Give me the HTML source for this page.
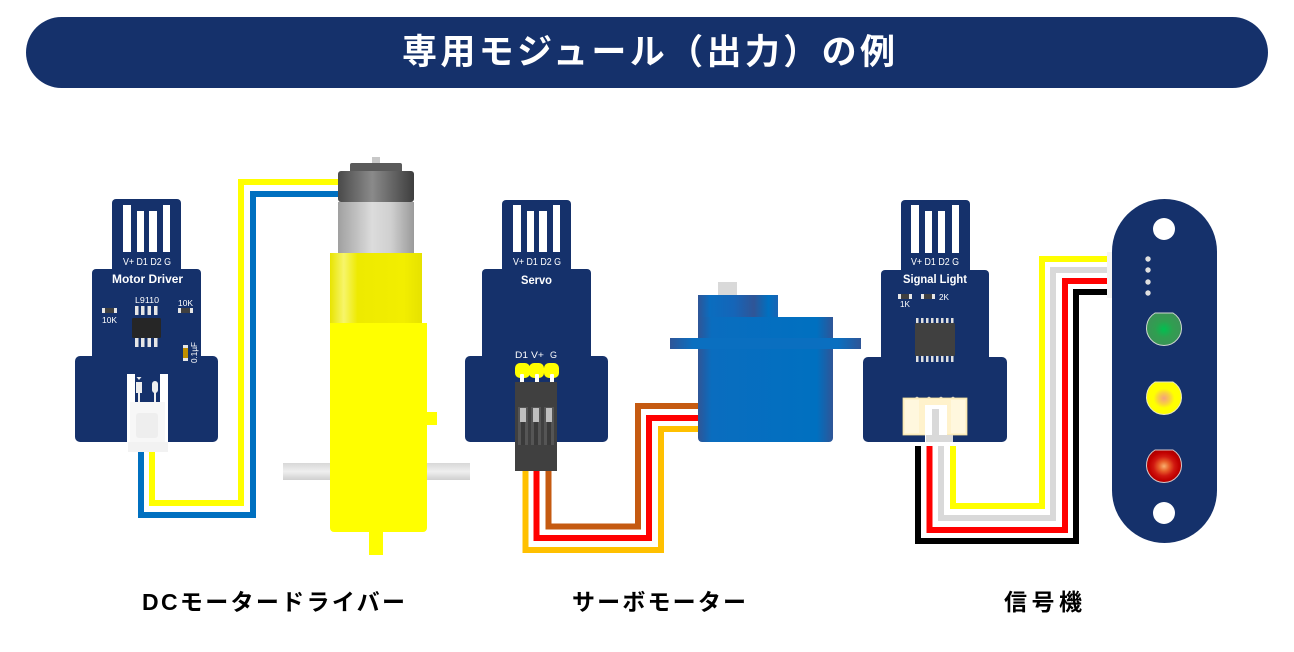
<!DOCTYPE html>
<html><head><meta charset="utf-8"><style>
html,body{margin:0;padding:0;background:#fff;}
svg{display:block;}
.jp{font-family:"Liberation Sans","Noto Sans CJK JP",sans-serif;font-weight:bold;}
.lb{font-family:"Liberation Sans",sans-serif;fill:#fff;}
</style></head><body>
<svg width="1294" height="652" viewBox="0 0 1294 652" xmlns="http://www.w3.org/2000/svg">
<defs>
<linearGradient id="cap" x1="0" x2="1" y1="0" y2="0">
<stop offset="0" stop-color="#4a4a4a"/><stop offset="0.45" stop-color="#8a8a8a"/><stop offset="1" stop-color="#3e3e3e"/></linearGradient>
<linearGradient id="silver" x1="0" x2="1" y1="0" y2="0">
<stop offset="0" stop-color="#a0a0a0"/><stop offset="0.45" stop-color="#dcdcdc"/><stop offset="0.7" stop-color="#cfcfcf"/><stop offset="1" stop-color="#9a9a9a"/></linearGradient>
<linearGradient id="yup" x1="0" x2="1" y1="0" y2="0">
<stop offset="0" stop-color="#e8e400"/><stop offset="0.15" stop-color="#f7f56a"/><stop offset="0.3" stop-color="#eeea00"/><stop offset="0.8" stop-color="#f2ee00"/><stop offset="1" stop-color="#e6e200"/></linearGradient>
<linearGradient id="axle" x1="0" x2="0" y1="0" y2="1">
<stop offset="0" stop-color="#d8d8d8"/><stop offset="0.5" stop-color="#efefef"/><stop offset="1" stop-color="#cfcfcf"/></linearGradient>
<linearGradient id="sbody" x1="0" x2="1" y1="0" y2="0">
<stop offset="0" stop-color="#2f5597"/><stop offset="0.1" stop-color="#0a6dbf"/><stop offset="0.88" stop-color="#0070c0"/><stop offset="1" stop-color="#2f5597"/></linearGradient>
<linearGradient id="stop" x1="0" x2="1" y1="0" y2="0">
<stop offset="0" stop-color="#2f5597"/><stop offset="0.15" stop-color="#0a6dbf"/><stop offset="0.45" stop-color="#1565b8"/><stop offset="0.7" stop-color="#2f5597"/><stop offset="0.88" stop-color="#0070c0"/><stop offset="1" stop-color="#1a64b4"/></linearGradient>
<linearGradient id="sfl" x1="0" x2="1" y1="0" y2="0">
<stop offset="0" stop-color="#2f5597"/><stop offset="0.12" stop-color="#0a6fc0"/><stop offset="0.88" stop-color="#0a6fc0"/><stop offset="1" stop-color="#2f5597"/></linearGradient>
<radialGradient id="gled"><stop offset="0" stop-color="#00c050"/><stop offset="0.5" stop-color="#2f9f50"/><stop offset="1" stop-color="#3a9456"/></radialGradient>
<radialGradient id="yled"><stop offset="0" stop-color="#f4a080"/><stop offset="0.35" stop-color="#f8d040"/><stop offset="0.6" stop-color="#ffff00"/><stop offset="1" stop-color="#ffff00"/></radialGradient>
<radialGradient id="rled"><stop offset="0" stop-color="#f8b070"/><stop offset="0.3" stop-color="#e8602a"/><stop offset="0.6" stop-color="#d01810"/><stop offset="0.85" stop-color="#c00000"/><stop offset="1" stop-color="#b00000"/></radialGradient>
</defs>

<!-- Title -->
<rect x="26" y="17" width="1242" height="71" rx="35.5" fill="#15316b"/>
<text class="jp" x="402" y="64" font-size="35" fill="#fff" textLength="493" lengthAdjust="spacing">専用モジュール（出力）の例</text>

<!-- ========== Motor driver ========== -->
<g fill="#15316b">
<rect x="112" y="199" width="69" height="80" rx="4"/>
<rect x="92" y="269" width="109" height="95" rx="4"/>
<rect x="75" y="356" width="143" height="86" rx="5"/>
</g>
<g fill="#fff">
<rect x="123" y="205" width="8" height="47"/><rect x="137" y="211" width="7" height="41"/>
<rect x="149" y="211" width="8" height="41"/><rect x="163" y="205" width="7" height="47"/>
</g>
<text class="lb" x="123" y="265" font-size="10" textLength="48" lengthAdjust="spacingAndGlyphs">V+ D1 D2 G</text>
<text class="lb" x="112" y="283" font-size="12" font-weight="bold" textLength="71" lengthAdjust="spacingAndGlyphs">Motor Driver</text>
<text class="lb" x="135" y="303" font-size="8" textLength="24" lengthAdjust="spacingAndGlyphs">L9110</text>
<g fill="#e6e6e6">
<rect x="135" y="306" width="3.5" height="9"/><rect x="141" y="306" width="3.5" height="9"/><rect x="147.5" y="306" width="3.5" height="9"/><rect x="154" y="306" width="3.5" height="9"/>
<rect x="135" y="338" width="3.5" height="9"/><rect x="141" y="338" width="3.5" height="9"/><rect x="147.5" y="338" width="3.5" height="9"/><rect x="154" y="338" width="3.5" height="9"/>
</g>
<rect x="132" y="318" width="29" height="20" rx="1.5" fill="#262626"/>
<rect x="102" y="308" width="15" height="5" fill="#e6e6e6"/><rect x="105" y="308" width="9" height="5" fill="#404040"/>
<text class="lb" x="102" y="323" font-size="8" textLength="15" lengthAdjust="spacingAndGlyphs">10K</text>
<rect x="178" y="308" width="15" height="5" fill="#e6e6e6"/><rect x="181" y="308" width="9" height="5" fill="#404040"/>
<text class="lb" x="178" y="306" font-size="8" textLength="15" lengthAdjust="spacingAndGlyphs">10K</text>
<rect x="183" y="345" width="5" height="16" fill="#e6e6e6"/><rect x="183" y="348" width="5" height="10" fill="#bf8f00"/>
<text class="lb" transform="translate(197,363) rotate(-90)" font-size="8" textLength="21" lengthAdjust="spacingAndGlyphs">0.1µF</text>
<!-- motor connector -->
<rect x="127" y="374" width="41" height="68" fill="#fff"/>
<rect x="135" y="374" width="25" height="28" fill="#15316b"/>
<rect x="136" y="382" width="6" height="11" fill="#eee"/><rect x="138" y="392" width="2" height="10" fill="#eee"/>
<path d="M136.5 377 L141.5 377 L139 380 Z" fill="#eee"/>
<rect x="152" y="381" width="6" height="12" rx="3" fill="#eee"/><rect x="154" y="392" width="2" height="10" fill="#eee"/>
<rect x="130" y="402" width="35" height="40" fill="#f7f7f7"/>
<rect x="136" y="413" width="22" height="25" rx="3" fill="#eeeeee"/>
<rect x="128" y="442" width="40" height="10" fill="#f2f2f2"/>
<!-- motor wires -->
<g fill="none" stroke-width="6" stroke-linejoin="miter">
<polyline points="141,452 141,515 253,515 253,194 340,194" stroke="#0070c0"/>
<polyline points="152,452 152,503 241,503 241,182 340,182" stroke="#ffff00"/>
</g>

<!-- ========== DC motor ========== -->
<rect x="283" y="463" width="187" height="17" fill="url(#axle)"/>
<rect x="372" y="157" width="8" height="7" fill="#c8c8c8"/>
<rect x="350" y="163" width="52" height="11" rx="2" fill="#5a5a5a"/>
<rect x="338" y="171" width="76" height="31" rx="3" fill="url(#cap)"/>
<rect x="338" y="202" width="76" height="51" fill="url(#silver)"/>
<rect x="330" y="253" width="92" height="70" fill="url(#yup)"/>
<rect x="330" y="323" width="97" height="209" rx="4" fill="#ffff00"/>
<rect x="330" y="323" width="97" height="10" fill="#ffff00"/>
<rect x="427" y="412" width="10" height="13" fill="#ffff00"/>
<rect x="369" y="532" width="14" height="23" fill="#ffff00"/>

<!-- ========== Servo board ========== -->
<g fill="#15316b">
<rect x="502" y="200" width="69" height="80" rx="4"/>
<rect x="482" y="269" width="109" height="95" rx="4"/>
<rect x="465" y="356" width="143" height="86" rx="5"/>
</g>
<g fill="#fff">
<rect x="513" y="205" width="8" height="47"/><rect x="527" y="211" width="7" height="41"/>
<rect x="539" y="211" width="8" height="41"/><rect x="553" y="205" width="7" height="47"/>
</g>
<text class="lb" x="513" y="265" font-size="10" textLength="48" lengthAdjust="spacingAndGlyphs">V+ D1 D2 G</text>
<text class="lb" x="521" y="284" font-size="12" font-weight="bold" textLength="31" lengthAdjust="spacingAndGlyphs">Servo</text>
<text class="lb" x="515" y="358" font-size="9" textLength="13" lengthAdjust="spacingAndGlyphs">D1</text>
<text class="lb" x="531" y="358" font-size="9" textLength="13" lengthAdjust="spacingAndGlyphs">V+</text>
<text class="lb" x="550" y="358" font-size="9" textLength="7" lengthAdjust="spacingAndGlyphs">G</text>
<g fill="#ffff00">
<rect x="515" y="363" width="15" height="15" rx="5"/><rect x="529" y="363" width="15" height="15" rx="5"/><rect x="544" y="363" width="15" height="15" rx="5"/>
</g>
<g fill="#fff"><rect x="520" y="374" width="4" height="9" rx="1"/><rect x="535" y="374" width="4" height="9" rx="1"/><rect x="550" y="374" width="4" height="9" rx="1"/></g>
<!-- servo wires -->
<g fill="none" stroke-width="6">
<polyline points="548.5,470 548.5,526.5 638,526.5 638,406 700,406" stroke="#c55a11"/>
<polyline points="536.5,470 536.5,538 649,538 649,418 700,418" stroke="#ff0000"/>
<polyline points="525.5,470 525.5,550 661,550 661,429 700,429" stroke="#ffc000"/>
</g>
<rect x="515" y="382" width="42" height="89" fill="#404040"/>
<g fill="#555"><rect x="518" y="407" width="10" height="38"/><rect x="531" y="407" width="10" height="38"/><rect x="544" y="407" width="10" height="38"/></g>
<g fill="#3a3a3a"><rect x="521" y="422" width="4" height="23"/><rect x="534" y="422" width="4" height="23"/><rect x="547" y="422" width="4" height="23"/></g>
<g fill="#bfbfbf"><rect x="520" y="408" width="6" height="14"/><rect x="533" y="408" width="6" height="14"/><rect x="546" y="408" width="6" height="14"/></g>

<!-- ========== Servo motor ========== -->
<rect x="718" y="282" width="19" height="14" fill="#d9d9d9"/>
<rect x="698" y="295" width="80" height="23" fill="url(#stop)"/>
<rect x="698" y="317" width="135" height="125" rx="4" fill="url(#sbody)"/>
<rect x="698" y="317" width="135" height="8" fill="url(#sbody)"/>
<rect x="670" y="338" width="191" height="11" fill="url(#sfl)"/>

<!-- ========== Signal board ========== -->
<g fill="#15316b">
<rect x="901" y="200" width="69" height="80" rx="4"/>
<rect x="881" y="270" width="108" height="95" rx="4"/>
<rect x="863" y="357" width="144" height="85" rx="5"/>
</g>
<g fill="#fff">
<rect x="911" y="205" width="8" height="48"/><rect x="925" y="211" width="7" height="42"/>
<rect x="938" y="211" width="7" height="42"/><rect x="952" y="205" width="7" height="48"/>
</g>
<text class="lb" x="911" y="265" font-size="10" textLength="48" lengthAdjust="spacingAndGlyphs">V+ D1 D2 G</text>
<text class="lb" x="903" y="283" font-size="12" font-weight="bold" textLength="64" lengthAdjust="spacingAndGlyphs">Signal Light</text>
<rect x="898" y="294" width="14" height="5" fill="#e6e6e6"/><rect x="901" y="294" width="8" height="5" fill="#404040"/>
<rect x="921" y="294" width="14" height="5" fill="#e6e6e6"/><rect x="924" y="294" width="8" height="5" fill="#404040"/>
<text class="lb" x="939" y="300" font-size="8" textLength="10" lengthAdjust="spacingAndGlyphs">2K</text>
<text class="lb" x="900" y="307" font-size="8" textLength="10" lengthAdjust="spacingAndGlyphs">1K</text>
<g fill="#e0e0e0">
<rect x="916" y="318" width="2.5" height="6"/><rect x="921" y="318" width="2.5" height="6"/><rect x="926" y="318" width="2.5" height="6"/><rect x="931" y="318" width="2.5" height="6"/><rect x="936" y="318" width="2.5" height="6"/><rect x="941" y="318" width="2.5" height="6"/><rect x="946" y="318" width="2.5" height="6"/><rect x="951" y="318" width="2.5" height="6"/>
<rect x="916" y="356" width="2.5" height="6"/><rect x="921" y="356" width="2.5" height="6"/><rect x="926" y="356" width="2.5" height="6"/><rect x="931" y="356" width="2.5" height="6"/><rect x="936" y="356" width="2.5" height="6"/><rect x="941" y="356" width="2.5" height="6"/><rect x="946" y="356" width="2.5" height="6"/><rect x="951" y="356" width="2.5" height="6"/>
</g>
<rect x="915" y="323" width="40" height="33" rx="1.5" fill="#404040"/>
<!-- signal connector -->
<g fill="#d9d9d9"><circle cx="917" cy="399" r="2.2"/><circle cx="929" cy="399" r="2.2"/><circle cx="941" cy="399" r="2.2"/><circle cx="953" cy="399" r="2.2"/></g>
<rect x="903" y="398" width="64" height="37" fill="#fff2cc" stroke="#f2dc9a" stroke-width="0.8"/>
<rect x="905" y="400" width="14" height="33" fill="#fff7de"/>
<rect x="951" y="400" width="14" height="33" fill="#fff7de"/>
<rect x="925" y="405" width="22" height="38" fill="#fff"/>
<rect x="932" y="409" width="7" height="27" fill="#d9d9d9"/>
<rect x="926" y="435" width="27" height="8" fill="#d9d9d9"/>
<rect x="913" y="442" width="45" height="5" fill="#fff"/>
<!-- signal wires -->
<g fill="none" stroke-width="6">
<polyline points="953,446 953,506 1042,506 1042,259 1108,259" stroke="#ffff00"/>
<polyline points="941,446 941,518 1053,518 1053,270 1108,270" stroke="#d9d9d9"/>
<polyline points="929.5,446 929.5,530 1065,530 1065,281 1108,281" stroke="#ff0000"/>
<polyline points="918,446 918,541 1076,541 1076,292 1108,292" stroke="#000000"/>
</g>
<rect x="1107" y="252" width="5" height="46" fill="#f4f4f4"/>

<!-- ========== Traffic light ========== -->
<rect x="1112" y="199" width="105" height="344" rx="52.5" fill="#15316b"/>
<circle cx="1164" cy="229" r="11" fill="#fff"/>
<circle cx="1164" cy="513" r="11" fill="#fff"/>
<g fill="#e0e0e0"><circle cx="1148" cy="259" r="2.7"/><circle cx="1148" cy="270" r="2.7"/><circle cx="1148" cy="282" r="2.7"/><circle cx="1148" cy="293" r="2.7"/></g>
<path d="M1155 313 A17.5 17.5 0 1 0 1173 313 Z" fill="url(#gled)" stroke="#cfd8d0" stroke-width="1"/>
<path d="M1155 382 A17.5 17.5 0 1 0 1173 382 Z" fill="url(#yled)" stroke="#e8e8c0" stroke-width="1"/>
<path d="M1155 450 A17.5 17.5 0 1 0 1173 450 Z" fill="url(#rled)" stroke="#d8c8c8" stroke-width="1"/>

<!-- Labels -->
<text class="jp" x="142" y="610" font-size="23" fill="#000" textLength="263" lengthAdjust="spacing">DCモータードライバー</text>
<text class="jp" x="572" y="610" font-size="23" fill="#000" textLength="174" lengthAdjust="spacing">サーボモーター</text>
<text class="jp" x="1004" y="610" font-size="23" fill="#000" textLength="78" lengthAdjust="spacing">信号機</text>
</svg>
</body></html>
